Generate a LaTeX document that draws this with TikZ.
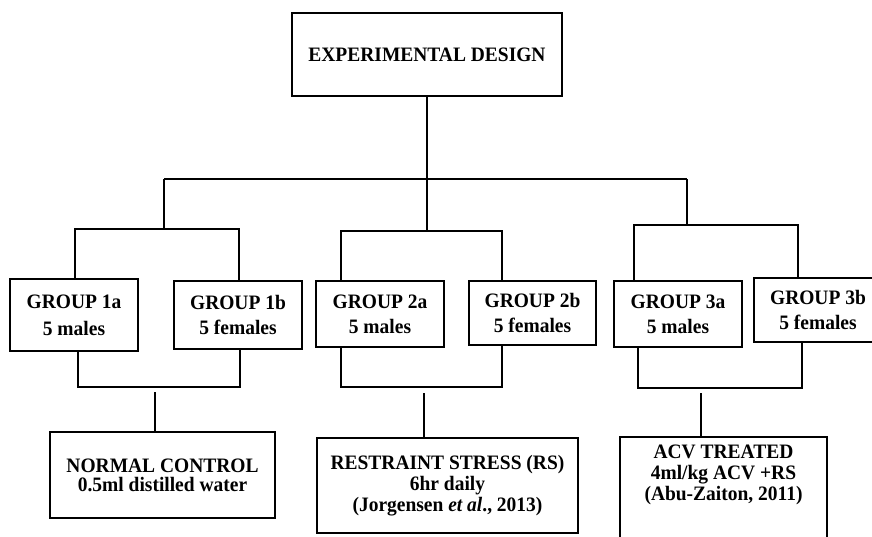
\documentclass[tikz,border=0pt]{standalone}
\usepackage{fontspec}
\setmainfont{Liberation Serif}[FakeStretch=0.95]
\usetikzlibrary{positioning,calc}
\tikzstyle{tBox}=[rectangle,draw,line width=1.1pt,inner sep=0pt,align=center, font=\fontsize{20.5}{24}\selectfont\bfseries]
\tikzstyle{gBox}=[rectangle,draw,line width=1.1pt,inner sep=0pt,minimum width=128pt,align=center, font=\fontsize{20.5}{25}\selectfont\bfseries]
\tikzstyle{rBox}=[rectangle,draw,line width=1.1pt,inner sep=0pt,align=center, font=\fontsize{20.5}{21}\selectfont\bfseries]
\tikzstyle{eLine}=[line width=1.1pt]

\begin{document}
\begin{tikzpicture}[x=1pt,y=-1pt]
                \useasboundingbox (0,0) rectangle (872,536);
                % top
                \draw (427,54.5) node[tBox,minimum width=270pt,minimum height=83pt] (design) {EXPERIMENTAL DESIGN};
                % groups
                \draw (74,315) node[gBox,minimum height=72pt,font=\fontsize{20.5}{27}\selectfont\bfseries] (g1a) {GROUP 1a\\5 males};
                \draw (238,315) node[gBox,minimum height=68pt] (g1b) {GROUP 1b\\5 females};
                \draw (380,314) node[gBox,minimum height=66pt] (g2a) {GROUP 2a\\5 males};
                \draw (532.5,313) node[gBox,minimum width=127pt,minimum height=64pt] (g2b) {GROUP 2b\\5 females};
                \draw (678,314) node[gBox,minimum height=66pt] (g3a) {GROUP 3a\\5 males};
                \draw (818,310) node[gBox,minimum height=64pt] (g3b) {GROUP 3b\\5 females};
                % treatments
                \draw (162.5,475) node[rBox,minimum width=225pt,minimum height=86pt,font=\fontsize{20.5}{19}\selectfont\bfseries] (control) {NORMAL CONTROL\\0.5ml distilled water};
                \draw (447.5,485.5) node[rBox,minimum width=261pt,minimum height=95pt] (stress) {RESTRAINT STRESS (RS)\\6hr daily\\(Jorgensen \textit{et al}., 2013)};
                \draw (723.5,492) node[rBox] (acv) {\parbox[c][110pt][t]{207pt}{\centering\vspace{8pt}ACV TREATED\\4ml/kg ACV +RS\\(Abu-Zaiton, 2011)}};
                % junctions
                \coordinate (b0l) at (164,179);
                \coordinate (b0r) at (687,179);
                \coordinate (j1) at (164,229);
                \coordinate (j2) at (427,231);
                \coordinate (j3) at (687,225);
                \coordinate (g1l) at (75,229);
                \coordinate (g1r) at (239,229);
                \coordinate (g2l) at (341,231);
                \coordinate (g2r) at (502,231);
                \coordinate (g3l) at (634,225);
                \coordinate (g3r) at (798,225);
                \coordinate (h1l) at (78,387);
                \coordinate (h1r) at (240,387);
                \coordinate (h2l) at (341,387);
                \coordinate (h2r) at (502,387);
                \coordinate (h3l) at (638,388);
                \coordinate (h3r) at (802,388);
                \coordinate (k1) at (155,392);
                \coordinate (k2) at (424,393);
                \coordinate (k3) at (701,393);
                \draw[eLine] (design.south) -- (j2);
                \draw[eLine] (b0l) -- (b0r);
                \draw[eLine] (b0l) -- (j1);
                \draw[eLine] (b0r) -- (j3);
                \draw[eLine] (g1a.north -| g1l) -- (g1l) -- (g1r) -- (g1b.north -| g1r);
                \draw[eLine] (g2a.north -| g2l) -- (g2l) -- (g2r) -- (g2b.north -| g2r);
                \draw[eLine] (g3a.north -| g3l) -- (g3l) -- (g3r) -- (g3b.north -| g3r);
                \draw[eLine] (g1a.south -| h1l) -- (h1l) -- (h1r) -- (g1b.south -| h1r);
                \draw[eLine] (g2a.south -| h2l) -- (h2l) -- (h2r) -- (g2b.south -| h2r);
                \draw[eLine] (g3a.south -| h3l) -- (h3l) -- (h3r) -- (g3b.south -| h3r);
                \draw[eLine] (k1) -- (control.north -| k1);
                \draw[eLine] (k2) -- (stress.north -| k2);
                \draw[eLine] (k3) -- (acv.north -| k3);
        \end{tikzpicture}
\end{document}
